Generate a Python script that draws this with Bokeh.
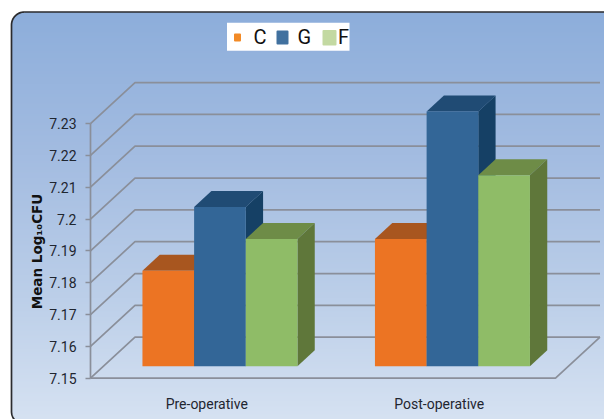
import numpy as np
from bokeh.core.properties import value
from bokeh.embed import file_html
from bokeh.models import FixedTicker, LinearAxis, Range1d
from bokeh.plotting import figure
from bokeh.resources import INLINE

# Chart content
groups = ["Pre-operative", "Post-operative"]
series = ["C", "G", "F"]
c_values = [7.18, 7.19]
g_values = [7.20, 7.23]
f_values = [7.19, 7.21]
y_ticks = [7.15, 7.16, 7.17, 7.18, 7.19, 7.20, 7.21, 7.22, 7.23]
y_tick_labels = ["7.15", "7.16", "7.17", "7.18", "7.19", "7.2", "7.21", "7.22", "7.23"]
y_title = "Mean Log\u2081\u2080CFU"

# Face colours: front, top, side
fronts = ["#EC7423", "#336697", "#8FBC67"]
tops = ["#A8561F", "#204B74", "#6E8C47"]
sides = ["#8F4A1B", "#154065", "#5F773A"]
legend_colors = ["#F28A26", "#41719F", "#C3D9A2"]

LABEL_FONT = "Roboto"

W, H = 604, 419
AXIS_PX, FLOOR_PX = 90.0, 377.7
CAT_PX = 232.5
VAL_PX = 3183.0
BASE = y_ticks[0]

x_start = -AXIS_PX / CAT_PX
x_end = (W - AXIS_PX) / CAT_PX
y_start = BASE - (H - FLOOR_PX) / VAL_PX
y_end = BASE + FLOOR_PX / VAL_PX


def px_x(px):
    return (px - AXIS_PX) / CAT_PX


def px_y(py):
    return BASE + (FLOOR_PX - py) / VAL_PX


p = figure(width=W, height=H, output_backend="svg", toolbar_location=None,
           x_axis_type=None, y_axis_type=None, min_border=0,
           x_range=Range1d(x_start, x_end), y_range=Range1d(y_start, y_end))
p.outline_line_color = None
p.background_fill_color = "white"
p.border_fill_color = "white"
p.grid.visible = False

# Rounded panel with a vertical gradient, built from one-pixel strips
PANEL_L, PANEL_T, RADIUS = 11.0, 11.5, 13.0
PANEL_R, PANEL_B = 617.0, 424.0
strips = np.arange(PANEL_T, H + 1.0)
frac = (strips - PANEL_T) / (H - PANEL_T)
stops_f = [0.0, 0.35, 0.7, 1.0]
stops_rgb = np.array([[141, 174, 219], [163, 188, 225], [188, 207, 233], [214, 226, 242]], float)
rgb = np.stack([np.interp(frac, stops_f, stops_rgb[:, i]) for i in range(3)], axis=1).astype(int)
colors = ["#%02x%02x%02x" % tuple(c) for c in rgb]


def corner_inset(py):
    d_top = RADIUS - (py - PANEL_T)
    d_bot = RADIUS - (PANEL_B - py)
    d = np.maximum(np.maximum(d_top, d_bot), 0.0)
    return RADIUS - np.sqrt(np.maximum(RADIUS ** 2 - d ** 2, 0.0))


inset = corner_inset(strips)
p.quad(left=px_x(PANEL_L + inset), right=px_x(PANEL_R - inset),
       top=px_y(strips), bottom=px_y(strips + 1.2), fill_color=colors, line_color=None)

# Panel outline: lower-left corner, left side, upper-left corner, top, upper-right corner
theta = np.linspace(0, np.pi / 2, 16)
arc_x, arc_y = RADIUS * np.cos(theta), RADIUS * np.sin(theta)
outline_x = np.concatenate([PANEL_L + RADIUS - arc_x[::-1],
                            PANEL_L + RADIUS - arc_x,
                            PANEL_R - RADIUS + arc_x[::-1]])
outline_y = np.concatenate([PANEL_B - RADIUS + arc_y[::-1],
                            PANEL_T + RADIUS - arc_y,
                            PANEL_T + RADIUS - arc_y[::-1]])
p.line(px_x(outline_x), px_y(outline_y), line_color="#2b2b2e", line_width=1.7)

# Depth of the walls and of the bars, in data units
WALL_DX, WALL_DY = 44.5 / CAT_PX, 41.0 / VAL_PX
BAR_DX0, BAR_DY0 = 13.2 / CAT_PX, 12.0 / VAL_PX
BAR_DX, BAR_DY = 17.3 / CAT_PX, 16.0 / VAL_PX
n_cat = len(groups)

# Walls: one bent gridline for each tick, then the floor edge
GRID = "#8A8F9A"
wall_xs = [[0.0, WALL_DX, n_cat + WALL_DX] for _ in y_ticks]
wall_ys = [[t, t + WALL_DY, t + WALL_DY] for t in y_ticks]
p.multi_line(wall_xs, wall_ys, line_color=GRID, line_width=1.7)
p.line([0.0, n_cat, n_cat + WALL_DX], [BASE, BASE, BASE + WALL_DY], line_color=GRID, line_width=1.7)

# Value axis along the front of the left wall
y_axis = LinearAxis(fixed_location=0.0, bounds=(y_ticks[0], y_ticks[-1]),
                    ticker=FixedTicker(ticks=y_ticks),
                    major_label_overrides=dict(zip(y_ticks, y_tick_labels)),
                    axis_line_color=GRID, axis_line_width=1.7,
                    major_tick_line_color=GRID, major_tick_line_width=1.7,
                    major_tick_in=0, major_tick_out=5, minor_tick_line_color=None,
                    major_label_standoff=9, major_label_text_color="#1f2630",
                    major_label_text_font=LABEL_FONT, major_label_text_font_size="14px")
p.add_layout(y_axis, "left")

# Category axis: labels only, the floor edge is already drawn
x_axis = LinearAxis(fixed_location=BASE, ticker=FixedTicker(ticks=[0.5, 1.5]),
                    major_label_overrides={0.5: groups[0], 1.5: groups[1]},
                    axis_line_color=None, major_tick_line_color=None, minor_tick_line_color=None,
                    major_label_standoff=12, major_label_text_color="#1f2630",
                    major_label_text_font=LABEL_FONT, major_label_text_font_size="14px")
p.add_layout(x_axis, "below")

# Bars, painted left to right so later boxes overlap earlier sides
all_values = [c_values, g_values, f_values]
bar_w = 1.0 / 4.5
for g in range(n_cat):
    for s in range(len(series)):
        v = all_values[s][g]
        x0 = g + 0.75 * bar_w + s * bar_w + BAR_DX0
        x1 = x0 + bar_w
        y0 = BASE + BAR_DY0
        top = v + BAR_DY0
        # Top and side faces recede up and to the right
        p.patch([x0, x1, x1 + BAR_DX, x0 + BAR_DX],
                [top, top, top + BAR_DY, top + BAR_DY], fill_color=tops[s], line_color=None)
        p.patch([x1, x1 + BAR_DX, x1 + BAR_DX, x1],
                [y0, y0 + BAR_DY, top + BAR_DY, top], fill_color=sides[s], line_color=None)
        p.quad(left=x0, right=x1, bottom=y0, top=top, fill_color=fronts[s], line_color=None)

# Legend box with individually sized swatches
p.quad(left=px_x(226.5), right=px_x(349), top=px_y(22.3), bottom=px_y(50.3),
       fill_color="white", line_color=None)
swatch_l = [233.5, 276.0, 322.0]
swatch_r = [240.5, 288.0, 336.0]
swatch_t = [33.0, 30.0, 29.5]
swatch_b = [41.0, 44.0, 45.0]
label_x = [253.0, 297.0, 337.5]
for s, name in enumerate(series):
    p.quad(left=px_x(swatch_l[s] + 1), right=px_x(swatch_r[s] - 1),
           top=px_y(swatch_t[s] + 1), bottom=px_y(swatch_b[s] - 1),
           fill_color=legend_colors[s], line_color=legend_colors[s],
           line_width=2, line_join="round")
    p.text([px_x(label_x[s])], [px_y(36.5)], text=[name], text_font=value(LABEL_FONT),
           text_font_size="20px", text_color="#111111", text_align="left", text_baseline="middle")

# Rotated value-axis title
p.text([px_x(36)], [px_y(251)], text=[y_title], angle=np.pi / 2,
       text_font=value("DejaVu Sans"), text_font_style="bold", text_font_size="13.5px",
       text_color="#111111", text_align="center", text_baseline="middle")

open("out.html", "w").write(file_html(p, INLINE))
